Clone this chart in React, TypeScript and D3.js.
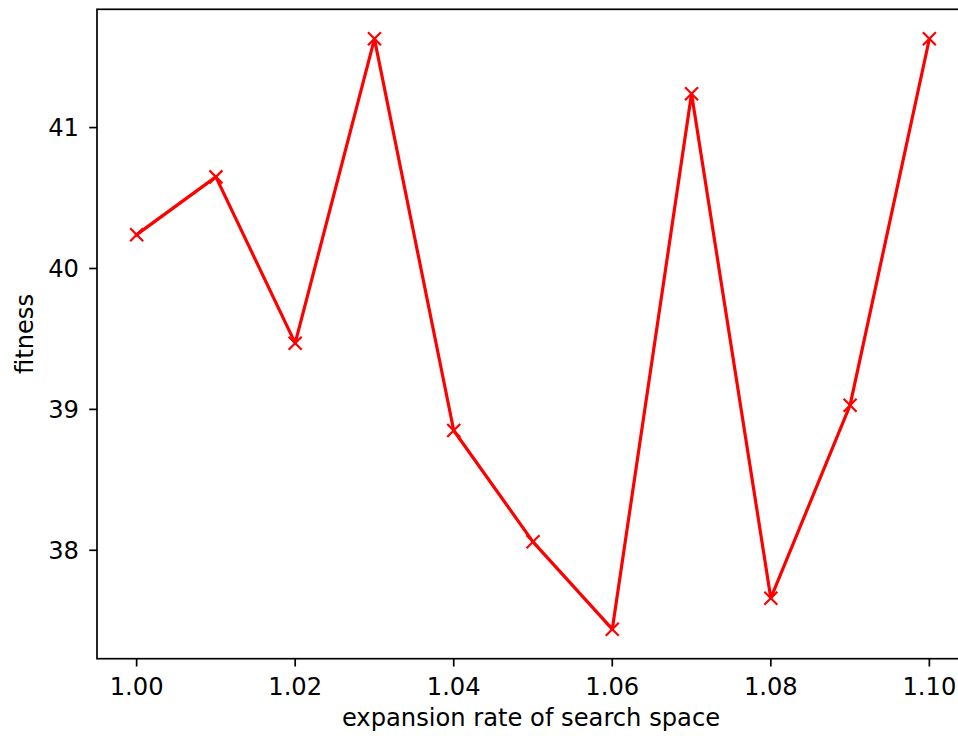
import React from "react";
import * as d3 from "d3";

const rates = [1.0, 1.01, 1.02, 1.03, 1.04, 1.05, 1.06, 1.07, 1.08, 1.09, 1.1];
const fitness = [40.24, 40.65, 39.47, 41.63, 38.85, 38.06, 37.44, 41.24, 37.66, 39.03, 41.63];
const xTicks = [1.0, 1.02, 1.04, 1.06, 1.08, 1.1];
const yTicks = [38, 39, 40, 41];
const xLabel = "expansion rate of search space";
const yLabel = "fitness";

const W = 958;
const H = 736;
const left = 97;
const right = 969;
const top = 9.3;
const bottom = 658.7;
const FONT = "'DejaVu Sans', sans-serif";
const FS = 24.2;

export default function App() {
  const xMin = d3.min(rates)!, xMax = d3.max(rates)!;
  const xPad = (xMax - xMin) * 0.05;
  const yMin = d3.min(fitness)!, yMax = d3.max(fitness)!;
  const yPad = (yMax - yMin) * 0.05;
  const x = d3.scaleLinear().domain([xMin - xPad, xMax + xPad]).range([left, right]);
  const y = d3.scaleLinear().domain([yMin - yPad, yMax + yPad]).range([bottom, top]);
  const pts = rates.map((r, i) => [x(r), y(fitness[i])] as [number, number]);
  const line = d3.line()(pts) || "";
  const m = 6.5;
  const tickLen = 7.8;

  return (
    <svg
      width={W}
      height={H}
      style={{ position: "absolute", left: 0, top: 0, background: "#fff" }}
      fontFamily={FONT}
    >
      <rect x={0} y={0} width={W} height={H} fill="#fff" />
      <path d={line} fill="none" stroke="#ff0000" strokeWidth={3.2} strokeLinejoin="round" strokeLinecap="square" />
      {pts.map(([px, py], i) => (
        <g key={i} stroke="#ff0000" strokeWidth={2.2}>
          <line x1={px - m} y1={py - m} x2={px + m} y2={py + m} />
          <line x1={px - m} y1={py + m} x2={px + m} y2={py - m} />
        </g>
      ))}
      <rect x={left} y={top} width={right - left} height={bottom - top} fill="none" stroke="#000" strokeWidth={1.7} />
      {xTicks.map((t) => (
        <g key={t}>
          <line x1={x(t)} x2={x(t)} y1={bottom} y2={bottom + tickLen} stroke="#000" strokeWidth={1.7} />
          <text x={x(t)} y={694.5} textAnchor="middle" fontSize={FS} fill="#000">
            {t.toFixed(2)}
          </text>
        </g>
      ))}
      {yTicks.map((t) => (
        <g key={t}>
          <line x1={left - tickLen} x2={left} y1={y(t)} y2={y(t)} stroke="#000" strokeWidth={1.7} />
          <text x={79} y={y(t)} dy="0.36em" textAnchor="end" fontSize={FS} fill="#000">
            {t}
          </text>
        </g>
      ))}
      <text x={531} y={726} textAnchor="middle" fontSize={FS} fill="#000">
        {xLabel}
      </text>
      <text
        transform={`translate(32.5, ${(top + bottom) / 2}) rotate(-90)`}
        textAnchor="middle"
        fontSize={FS}
        fill="#000"
      >
        {yLabel}
      </text>
    </svg>
  );
}
